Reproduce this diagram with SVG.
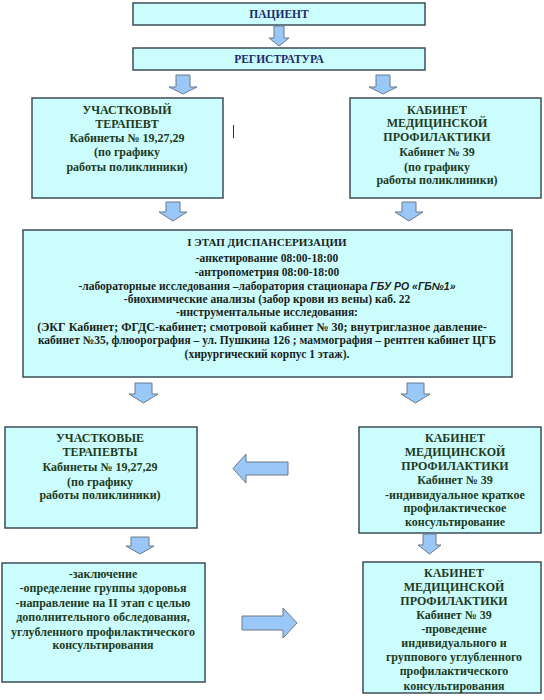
<svg xmlns="http://www.w3.org/2000/svg" width="544" height="700" viewBox="0 0 544 700">
<style>
.box{fill:#ccfdfd;stroke:#3e4c58;stroke-width:1.5}
.arr{fill:#99c8f8;stroke:#6a7888;stroke-width:1}
text{font-family:"Liberation Serif","Times New Roman",serif;font-weight:bold;text-anchor:middle}
.nav{fill:#1c2a6e;font-size:11.5px}
.grn{fill:#1d3a1f;font-size:12px}
.blk{fill:#1a1f1a;font-size:11.5px}
.it{font-family:"Liberation Sans",Arial,sans-serif;font-style:italic;font-size:10.5px}
</style>
<rect width="544" height="700" fill="#ffffff"/>
<g id="patient">
<rect class="box" x="133" y="3" width="292" height="22"/>
<text class="nav" x="279" y="18">ПАЦИЕНТ</text>
</g>
<g id="registratura">
<rect class="box" x="133" y="48" width="292" height="22"/>
<text class="nav" x="279" y="63">РЕГИСТРАТУРА</text>
</g>
<g id="terapevt">
<rect class="box" x="32" y="98" width="191" height="100"/>
<text class="grn" x="127" y="114">УЧАСТКОВЫЙ</text>
<text class="grn" x="127" y="128">ТЕРАПЕВТ</text>
<text class="grn" x="127" y="142">Кабинеты № 19,27,29</text>
<text class="grn" x="127" y="156">(по графику</text>
<text class="grn" x="127" y="171">работы поликлиники)</text>
</g>
<line x1="233.5" y1="125" x2="233.5" y2="138" stroke="#333" stroke-width="1"/>
<g id="profilaktika1">
<rect class="box" x="350" y="98" width="191" height="100"/>
<text class="grn" x="437" y="114">КАБИНЕТ</text>
<text class="grn" x="437" y="127">МЕДИЦИНСКОЙ</text>
<text class="grn" x="437" y="141">ПРОФИЛАКТИКИ</text>
<text class="grn" x="437" y="156">Кабинет № 39</text>
<text class="grn" x="437" y="171">(по графику</text>
<text class="grn" x="437" y="184">работы поликлиники)</text>
</g>
<g id="etap1">
<rect class="box" x="23" y="230" width="489" height="147"/>
<text class="blk" x="267" y="246" style="font-size:11px">І ЭТАП ДИСПАНСЕРИЗАЦИИ</text>
<text class="blk" x="267" y="262">-анкетирование 08:00-18:00</text>
<text class="blk" x="267" y="276">-антропометрия 08:00-18:00</text>
<text class="blk" x="267" y="290">-лабораторные исследования –лаборатория стационара  <tspan class="it">ГБУ РО «ГБ№1»</tspan></text>
<text class="blk" x="267" y="303">-биохимические анализы (забор крови из вены) каб. 22</text>
<text class="blk" x="267" y="316">-инструментальные исследования:</text>
<text class="blk" x="262" y="331" style="font-size:12px">(ЭКГ Кабинет; ФГДС-кабинет; смотровой кабинет № 30; внутриглазное давление-</text>
<text class="blk" x="267" y="344">кабинет №35, флюорография – ул. Пушкина 126 ; маммография – рентген кабинет ЦГБ</text>
<text class="blk" x="267" y="358">(хирургический корпус 1 этаж).</text>
</g>
<g id="terapevty">
<rect class="box" x="5" y="427" width="192" height="101"/>
<text class="grn" x="100" y="442">УЧАСТКОВЫЕ</text>
<text class="grn" x="100" y="456">ТЕРАПЕВТЫ</text>
<text class="grn" x="100" y="471">Кабинеты № 19,27,29</text>
<text class="grn" x="100" y="486">(по графику</text>
<text class="grn" x="100" y="499">работы поликлиники)</text>
</g>
<g id="profilaktika2">
<rect class="box" x="359" y="427" width="182" height="106"/>
<text class="grn" x="455" y="442">КАБИНЕТ</text>
<text class="grn" x="455" y="456">МЕДИЦИНСКОЙ</text>
<text class="grn" x="455" y="470">ПРОФИЛАКТИКИ</text>
<text class="grn" x="455" y="484">Кабинет № 39</text>
<text class="grn" x="455" y="499">-индивидуальное краткое</text>
<text class="grn" x="455" y="512">профилактическое</text>
<text class="grn" x="455" y="526">консультирование</text>
</g>
<g id="zaklyuchenie">
<rect class="box" x="2" y="563" width="203" height="119"/>
<text class="grn" x="103" y="578">-заключение</text>
<text class="grn" x="103" y="592">-определение группы здоровья</text>
<text class="grn" x="103" y="607">-направление на II этап с целью</text>
<text class="grn" x="103" y="621">дополнительного обследования,</text>
<text class="grn" x="103" y="636">углубленного профилактического</text>
<text class="grn" x="103" y="649">консультирования</text>
</g>
<g id="profilaktika3">
<rect class="box" x="363" y="562" width="178" height="131"/>
<text class="grn" x="454" y="577">КАБИНЕТ</text>
<text class="grn" x="454" y="591">МЕДИЦИНСКОЙ</text>
<text class="grn" x="454" y="605">ПРОФИЛАКТИКИ</text>
<text class="grn" x="454" y="619">Кабинет № 39</text>
<text class="grn" x="454" y="633">-проведение</text>
<text class="grn" x="454" y="647">индивидуального и</text>
<text class="grn" x="454" y="661">группового углубленного</text>
<text class="grn" x="454" y="675">профилактического</text>
<text class="grn" x="454" y="690">консультирования</text>
</g>
<g id="connectors">
<path class="arr" d="M274,26 H284 V38 H289 L279,46 L269,38 H274 Z"/>
<path class="arr" d="M176,75 H190 V87 H197 L183,94 L169,87 H176 Z"/>
<path class="arr" d="M376,75 H390 V87 H397 L383,94 L369,87 H376 Z"/>
<path class="arr" d="M166,202 H180 V212 H187 L173,221 L159,212 H166 Z"/>
<path class="arr" d="M402,202 H416 V212 H423 L409,221 L395,212 H402 Z"/>
<path class="arr" d="M135,383 H152 V394 H158 L143.5,403 L129,394 H135 Z"/>
<path class="arr" d="M407,383 H424 V394 H430 L415.5,403 L401,394 H407 Z"/>
<path class="arr" d="M131,537 H149 V546 H154 L140,554 L126,546 H131 Z"/>
<path class="arr" d="M423,534 H436 V545 H441 L429.5,554 L418,545 H423 Z"/>
<path class="arr" d="M288,462 V475 H246 V483 L233,468.5 L246,454 V462 Z"/>
<path class="arr" d="M242,616 V630 H283 V638 L297,623 L283,608 V616 Z"/>
</g>
</svg>
